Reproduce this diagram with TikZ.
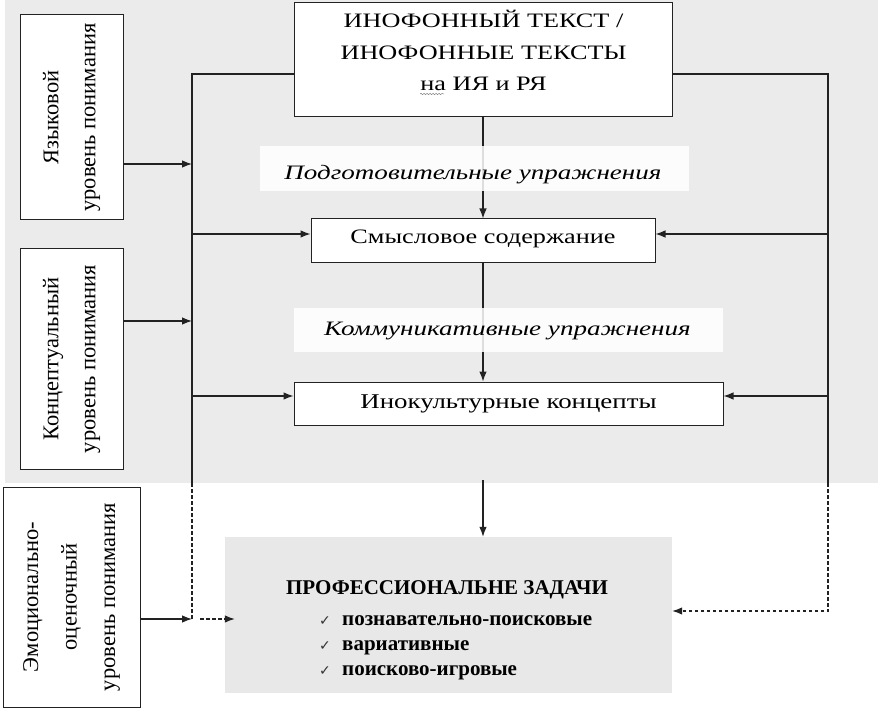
\documentclass[tikz,border=0pt]{standalone}
\usepackage{fontspec}
\setmainfont{Liberation Serif}
\newfontfamily\wide{Liberation Serif}[FakeStretch=1.28]
\newfontfamily\wideit{Liberation Serif Italic}[FakeStretch=1.32]
\newfontfamily\symf{DejaVu Sans}
\usetikzlibrary{arrows.meta,decorations.pathmorphing}
\definecolor{bggray}{HTML}{EBEBEB}
\definecolor{boxgray}{HTML}{E8E8E8}
\definecolor{linec}{HTML}{222222}
\begin{document}
\begin{tikzpicture}[x=1pt,y=-1pt,
  ln/.style={line width=1.1pt,draw=linec},
  tip/.style={-{Latex[length=10pt,width=7.5pt]}},
  arr/.style={ln,tip},
  dsh/.style={ln,dash pattern=on 3.5pt off 2.5pt},
  box/.style={draw=linec,line width=1pt,fill=white,inner sep=0pt},
  lbl/.style={fill=white,fill opacity=0.85,text opacity=1,inner sep=0pt},
  wtxt/.style={inner sep=0pt,anchor=base,font=\wide\fontsize{20.5}{24}\selectfont},
  itxt/.style={inner sep=0pt,anchor=base,font=\wideit\fontsize{20.5}{24}\selectfont},
  btxt/.style={inner sep=0pt,anchor=base west,font=\bfseries\fontsize{21}{25}\selectfont},
  rtxt/.style={inner sep=0pt,rotate=90,align=center,font=\fontsize{22.5}{37}\selectfont},
]
\useasboundingbox (0,0) rectangle (881,711);
\fill[white] (0,0) rectangle (881,711);
\fill[bggray] (5,0) rectangle (878,483);

% boxes
\node[box,minimum width=378pt,minimum height=114pt] (top) at (483.5,60) {};
\node[wtxt] (t1) at (483.5,28) {ИНОФОННЫЙ ТЕКСТ /};
\node[wtxt] (t2) at (483.5,59.5) {ИНОФОННЫЕ ТЕКСТЫ};
\node[wtxt] (t3) at (483.5,91) {на ИЯ и РЯ};
\draw[decorate,decoration={snake,amplitude=0.7pt,segment length=3pt},draw=gray,line width=0.5pt] (t3.base west) ++(0,3) -- ++(24,0);

\node[box,minimum width=103pt,minimum height=205pt] (b1) at (71.5,117.5) {};
\node[rtxt] (b1t) at (b1) {Языковой\\уровень понимания};
\node[box,minimum width=103pt,minimum height=220pt] (b2) at (71.5,359) {};
\node[rtxt] (b2t) at (b2) {Концептуальный\\уровень понимания};
\node[box,minimum width=137pt,minimum height=220pt] (b3) at (71.5,597) {};
\node[rtxt,font=\fontsize{22.5}{38.5}\selectfont] (b3t) at (b3) {Эмоционально-\\оценочный\\уровень понимания};

\node[box,minimum width=344pt,minimum height=44pt] (sm) at (483,241) {};
\node[wtxt] (smt) at (483,244) {Смысловое содержание};
\node[box,minimum width=429pt,minimum height=43pt] (in) at (508.5,403.5) {};
\node[wtxt,font=\wide\fontsize{21}{24}\selectfont] (int) at (508.5,408) {Инокультурные концепты};

\node[fill=boxgray,inner sep=0pt,minimum width=447pt,minimum height=156pt] (pz) at (448.5,615) {};
\node[inner sep=0pt,anchor=base,font=\bfseries\fontsize{21}{25}\selectfont] (pzt) at (447,594) {ПРОФЕССИОНАЛЬНЕ ЗАДАЧИ};
\node[btxt] (i1) at (342,625) {познавательно-поисковые};
\node[btxt] (i2) at (342,650) {вариативные};
\node[btxt] (i3) at (342,675) {поисково-игровые};
\foreach \i in {1,2,3}{
  \node[inner sep=0pt,anchor=base east,font=\symf\fontsize{14}{16}\selectfont,text=black!80] (ck\i) at ([xshift=-11pt]i\i.base west) {✓};
}

% coordinates
\coordinate (LT) at (192,74);
\coordinate (LG) at (192,483);
\coordinate (LB) at (192,619);
\coordinate (RT) at (828,74);
\coordinate (RG) at (828,483);
\coordinate (RB) at (828,611);
\coordinate (y1) at (0,164);
\coordinate (y2) at (0,321);
\coordinate (ys) at (0,234);
\coordinate (yi) at (0,396);
\coordinate (c5) at (483,480);

% frame lines
\draw[ln] (top.west |- LT) -- (LT) -- (LG);
\draw[dsh] (LG) -- (LB);
\draw[ln] (top.east |- RT) -- (RT) -- (RG);
\draw[dsh,tip] (RG) -- (RB) -- (pz.east |- RB);
\draw[dsh,tip] ([xshift=8pt]LB) -- ([xshift=10pt]pz.west |- LB);

\draw[arr] (b1.east |- y1) -- (LT |- y1);
\draw[arr] (b2.east |- y2) -- (LT |- y2);
\draw[arr] (b3.east |- LB) -- (LB);

\draw[arr] (LT |- ys) -- (sm.west |- ys);
\draw[arr] (RT |- ys) -- (sm.east |- ys);
\draw[arr] (LT |- yi) -- (in.west |- yi);
\draw[arr] (RT |- yi) -- (in.east |- yi);

\draw[arr] (sm.north |- top.south) -- (sm.north);
\draw[arr] (sm.south) -- (sm.south |- in.north);
\draw[arr] (c5) -- (c5 |- pz.north);

% labels over the centre line
\node[lbl,minimum width=429pt,minimum height=45pt] (pl) at (474.5,168.5) {};
\node[itxt] (plt) at (473,180) {Подготовительные упражнения};
\node[lbl,minimum width=429pt,minimum height=44pt] (kl) at (508.5,330) {};
\node[itxt] (klt) at (507.5,335) {Коммуникативные упражнения};
\end{tikzpicture}
\end{document}
